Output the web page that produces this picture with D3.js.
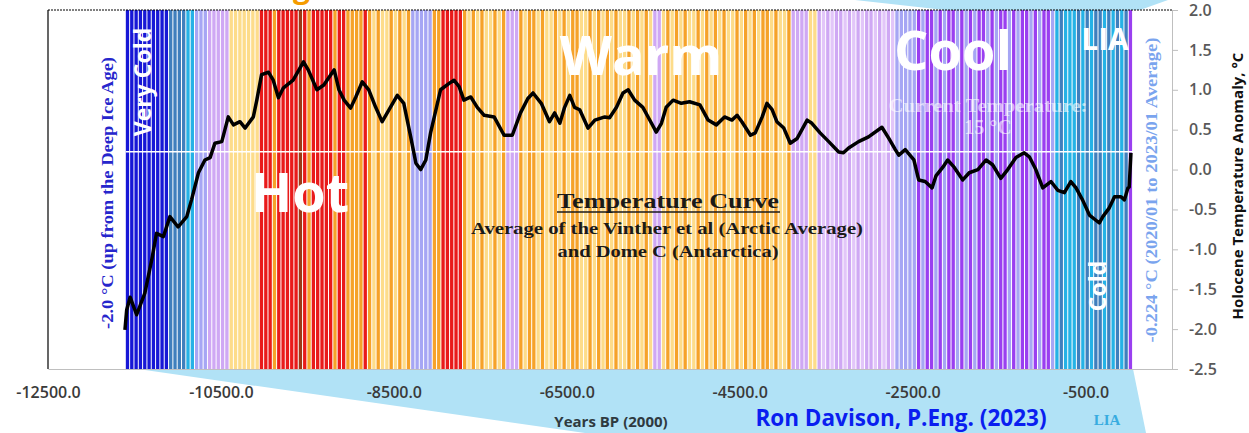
<!DOCTYPE html>
<html>
<head>
<meta charset="utf-8">
<script src="https://cdn.jsdelivr.net/npm/d3@7"></script>
<style>
  html, body { margin: 0; padding: 0; background: #fff; }
  svg { display: block; }
</style>
</head>
<body>
<div class="chart"></div>
<script>
// curve (years BP relative to 2000, anomaly in degC)
var years = [-11610, -11590, -11550, -11475, -11380, -11300, -11245, -11165, -11090, -10995,
  -10895, -10840, -10760, -10685, -10625, -10570, -10490, -10415, -10355, -10280,
  -10220, -10125, -10085, -10030, -9950, -9895, -9835, -9780, -9665, -9545,
  -9490, -9390, -9310, -9190, -9135, -9075, -9000, -8940, -8865, -8790,
  -8710, -8635, -8555, -8460, -8385, -8305, -8245, -8190, -8130, -8075,
  -7960, -7860, -7805, -7745, -7690, -7610, -7535, -7455, -7340, -7225,
  -7130, -7035, -6950, -6890, -6795, -6700, -6640, -6580, -6525, -6465,
  -6410, -6350, -6255, -6175, -6060, -6005, -5925, -5850, -5790, -5715,
  -5620, -5520, -5465, -5405, -5350, -5270, -5175, -5080, -4960, -4865,
  -4770, -4675, -4590, -4530, -4475, -4375, -4320, -4240, -4185, -4125,
  -4070, -3990, -3915, -3835, -3720, -3665, -3570, -3470, -3355, -3300,
  -3240, -3125, -3010, -2855, -2775, -2700, -2660, -2585, -2485, -2430,
  -2355, -2275, -2230, -2150, -2095, -2020, -1920, -1845, -1745, -1650,
  -1575, -1480, -1400, -1305, -1210, -1150, -1075, -995, -900, -820,
  -745, -670, -610, -535, -455, -340, -300, -225, -165, -90,
  -50, -10, 5, 25];
var anomaly = [-2.01, -1.76, -1.60, -1.82, -1.55, -1.13, -0.80, -0.84, -0.59, -0.72,
  -0.59, -0.38, -0.04, 0.12, 0.15, 0.33, 0.35, 0.66, 0.56, 0.60,
  0.52, 0.66, 0.87, 1.19, 1.22, 1.12, 0.90, 1.02, 1.12, 1.35,
  1.25, 1.00, 1.06, 1.25, 1.00, 0.87, 0.77, 0.91, 1.10, 1.00,
  0.78, 0.60, 0.75, 0.93, 0.83, 0.41, 0.08, 0.00, 0.12, 0.46,
  1.00, 1.08, 1.12, 1.04, 0.87, 0.91, 0.78, 0.68, 0.66, 0.43,
  0.43, 0.71, 0.89, 0.96, 0.83, 0.60, 0.71, 0.58, 0.78, 0.93,
  0.78, 0.75, 0.52, 0.62, 0.66, 0.65, 0.78, 0.96, 1.00, 0.87,
  0.78, 0.58, 0.47, 0.58, 0.78, 0.87, 0.83, 0.85, 0.81, 0.62,
  0.56, 0.66, 0.62, 0.68, 0.60, 0.43, 0.46, 0.66, 0.83, 0.75,
  0.60, 0.52, 0.33, 0.39, 0.62, 0.58, 0.46, 0.35, 0.22, 0.21,
  0.27, 0.35, 0.41, 0.53, 0.39, 0.25, 0.18, 0.25, 0.12, -0.13,
  -0.15, -0.23, -0.08, 0.03, 0.12, 0.03, -0.13, -0.04, 0.00, 0.12,
  0.06, -0.11, 0.00, 0.15, 0.21, 0.16, 0.00, -0.23, -0.15, -0.26,
  -0.29, -0.15, -0.23, -0.38, -0.57, -0.67, -0.59, -0.48, -0.34, -0.34,
  -0.38, -0.23, -0.22, 0.21];

var xTicks = [-12500, -10500, -8500, -6500, -4500, -2500, -500];
var yTicks = [2.0, 1.5, 1.0, 0.5, 0.0, -0.5, -1.0, -1.5, -2.0, -2.5];
var currentAnomaly = 0.224;

// one code per 50-year stripe, starting at -11600
var stripeStart = -11600, stripeStep = 50;
var stripeCodes = [
  "BBBBBBBBBB", "bbbb", "cc", "lll", "ppppp", "yyyyyyy",
  "rrrorrrrrRrorrrrrorr", "oooo", "r", "oyoyyoyoyo", "lllll", "oo", "rrrrr",
  "oyoyoyyoyo", "ppp",
  "oyooy", "oyyoy", "oyooy", "yoyoy", "oyoyy", "oyoyo", "y",
  "pp",
  "yoyoy", "oyyoy", "oyoyo", "yyoyo", "yoyoo", "yoyyo",
  "pppp", "yy", "pqpqppqpqpqppqpqpq", "lllll",
  "PlPP", "lPlP", "PlPl", "PlPP", "lPlP", "PlPl", "PPlP", "lPPl",
  "cbcccbc", "bcbbcbcbcb", "P"
].join("").split("");
var stripeColours = {
  B: "#1717d6", b: "#3f7fbd", c: "#25b2e6", l: "#a6a6f4", p: "#cfa8f4",
  q: "#e2c6f9", P: "#9a3ff0", y: "#fddc8a", o: "#f6a229", r: "#e91a1a", R: "#9c3a16"
};

var width = 1249, height = 433;
var x = d3.scaleLinear().domain([-12500, 500]).range([48, 1172]);
var y = d3.scaleLinear().domain([-2.5, 2]).range([369, 10]);

var svg = d3.select(".chart").append("svg")
  .attr("width", width)
  .attr("height", height)
  .style("background", "#fff");

var sans = "'Open Sans', 'DejaVu Sans', sans-serif";
var serif = "'Liberation Serif', 'DejaVu Serif', serif";

// light blue call-out shapes behind the plot
svg.append("polygon")
  .attr("points", [[138, 369], [1133, 369], [1146, 433], [585, 433]].join(" "))
  .attr("fill", "#b1e2f6");
svg.append("polygon")
  .attr("points", [[855, 0], [945, 10], [1140, 10], [1168, 0]].join(" "))
  .attr("fill", "#b1e2f6");

// orange heading, mostly above the picture as in the source
svg.append("text")
  .attr("x", 310).attr("y", -2)
  .attr("text-anchor", "end")
  .style("font-family", sans).style("font-weight", 700).style("font-size", "30px")
  .attr("fill", "#f59c00")
  .text("Warming");

// climate stripes
svg.append("g").selectAll("rect")
  .data(stripeCodes)
  .enter().append("rect")
    .attr("x", function (d, i) { return x(stripeStart + i * stripeStep); })
    .attr("y", y(2))
    .attr("width", function (d, i) {
      return x(stripeStart + (i + 1) * stripeStep) - x(stripeStart + i * stripeStep) - 1;
    })
    .attr("height", y(-2.5) - y(2))
    .attr("fill", function (d) { return stripeColours[d]; });

// current temperature line
svg.append("line")
  .attr("x1", x(stripeStart)).attr("x2", x(stripeStart + stripeCodes.length * stripeStep))
  .attr("y1", y(currentAnomaly)).attr("y2", y(currentAnomaly))
  .attr("stroke", "#fff").attr("stroke-width", 1.5);

// frame
svg.append("line").attr("x1", 48).attr("x2", 48).attr("y1", 10).attr("y2", 369)
  .attr("stroke", "#000").attr("stroke-width", 1.2);
svg.append("line").attr("x1", 48).attr("x2", 1172).attr("y1", 10).attr("y2", 10)
  .attr("stroke", "#000").attr("stroke-width", 1).attr("stroke-dasharray", "2,1");

// x axis
var xAxis = svg.append("g")
  .attr("transform", "translate(0," + y(-2.5) + ")")
  .call(d3.axisBottom(x).tickValues(xTicks).tickSize(0).tickSizeOuter(0)
    .tickFormat(function (d) { return d.toFixed(1); }));
xAxis.select(".domain").attr("stroke", "#bfbfbf");
xAxis.selectAll("text")
  .attr("y", 29).attr("dy", null)
  .attr("fill", "#3a3a3a")
  .style("font-family", sans).style("font-weight", 600).style("font-size", "16px");

// right y axis
var yAxis = svg.append("g")
  .attr("transform", "translate(1172,0)")
  .call(d3.axisRight(y).tickValues(yTicks).tickSize(6).tickSizeOuter(0).tickPadding(11)
    .tickFormat(function (d) { return d.toFixed(1); }));
yAxis.select(".domain").attr("stroke", "#bfbfbf");
yAxis.selectAll(".tick line").attr("stroke", "#bfbfbf");
yAxis.selectAll("text")
  .attr("fill", "#595959")
  .style("font-family", sans).style("font-weight", 600).style("font-size", "16px");

// temperature curve
var line = d3.line()
  .x(function (d) { return x(d[0]); })
  .y(function (d) { return y(d[1]); });
svg.append("path")
  .datum(d3.zip(years, anomaly))
  .attr("d", line)
  .attr("fill", "none")
  .attr("stroke", "#000")
  .attr("stroke-width", 3.5)
  .attr("stroke-linejoin", "round");

// big white labels
function label(txt, px, py, size, rotate) {
  var t = svg.append("text")
    .attr("text-anchor", "middle")
    .style("font-family", sans).style("font-weight", 700).style("font-size", size + "px")
    .attr("fill", "#fff")
    .text(txt);
  if (rotate) {
    t.attr("dy", "0.35em").attr("transform", "translate(" + px + "," + py + ") rotate(-90)");
  } else {
    t.attr("x", px).attr("y", py);
  }
  return t;
}
label("Hot", 300, 212, 54);
label("Warm", 641, 75, 54);
label("Cool", 953, 70, 54);
label("LIA", 1105, 50, 30);
label("Very Cold", 143, 82, 23, true);
label("Cold", 1098, 286, 23, true);

// current temperature note
svg.append("text")
  .attr("x", 988).attr("y", 112).attr("text-anchor", "middle")
  .attr("textLength", 199).attr("lengthAdjust", "spacingAndGlyphs")
  .style("font-family", serif).style("font-weight", 700).style("font-size", "19px")
  .attr("fill", "#fff").attr("fill-opacity", 0.6)
  .text("Current Temperature:");
svg.append("text")
  .attr("x", 988).attr("y", 134).attr("text-anchor", "middle")
  .style("font-family", serif).style("font-weight", 700).style("font-size", "20px")
  .attr("fill", "#fff").attr("fill-opacity", 0.6)
  .text("15 \u00B0C");

// curve caption
svg.append("text")
  .attr("x", 668).attr("y", 208).attr("text-anchor", "middle")
  .attr("textLength", 222).attr("lengthAdjust", "spacingAndGlyphs")
  .style("font-family", serif).style("font-weight", 700).style("font-size", "22px")
  .attr("fill", "#1a1a1a")
  .text("Temperature Curve");
svg.append("line")
  .attr("x1", 557).attr("x2", 780).attr("y1", 212).attr("y2", 212)
  .attr("stroke", "#1a1a1a").attr("stroke-width", 1.5);
svg.append("text")
  .attr("x", 667).attr("y", 234).attr("text-anchor", "middle")
  .attr("textLength", 392).attr("lengthAdjust", "spacingAndGlyphs")
  .style("font-family", serif).style("font-weight", 700).style("font-size", "17px")
  .attr("fill", "#1a1a1a")
  .text("Average of the Vinther et al (Arctic Average)");
svg.append("text")
  .attr("x", 668).attr("y", 257).attr("text-anchor", "middle")
  .attr("textLength", 221).attr("lengthAdjust", "spacingAndGlyphs")
  .style("font-family", serif).style("font-weight", 700).style("font-size", "17px")
  .attr("fill", "#1a1a1a")
  .text("and Dome C (Antarctica)");

// rotated side notes
svg.append("text")
  .attr("transform", "translate(107,193) rotate(-90)")
  .attr("dy", "0.35em").attr("text-anchor", "middle")
  .attr("textLength", 272).attr("lengthAdjust", "spacingAndGlyphs")
  .style("font-family", serif).style("font-weight", 700).style("font-size", "17px")
  .attr("fill", "#2626cc")
  .text("-2.0 \u00B0C (up from the Deep Ice Age)");
svg.append("text")
  .attr("transform", "translate(1151,190) rotate(-90)")
  .attr("dy", "0.35em").attr("text-anchor", "middle")
  .attr("textLength", 305).attr("lengthAdjust", "spacingAndGlyphs")
  .style("font-family", serif).style("font-weight", 700).style("font-size", "17px")
  .attr("fill", "#7aa4ee")
  .text("-0.224 \u00B0C (2020/01 to 2023/01 Average)");
svg.append("text")
  .attr("transform", "translate(1238,186) rotate(-90)")
  .attr("dy", "0.35em").attr("text-anchor", "middle")
  .style("font-family", sans).style("font-weight", 700).style("font-size", "15px")
  .attr("fill", "#111")
  .text("Holocene Temperature Anomaly, \u00B0C");

// bottom texts
svg.append("text")
  .attr("x", 611).attr("y", 427).attr("text-anchor", "middle")
  .style("font-family", sans).style("font-weight", 700).style("font-size", "15px")
  .attr("fill", "#2f3a40")
  .text("Years BP (2000)");
svg.append("text")
  .attr("x", 901).attr("y", 426).attr("text-anchor", "middle")
  .style("font-family", sans).style("font-weight", 700).style("font-size", "22.5px")
  .attr("fill", "#0a1ef0")
  .text("Ron Davison, P.Eng. (2023)");
svg.append("text")
  .attr("x", 1107).attr("y", 425).attr("text-anchor", "middle")
  .style("font-family", serif).style("font-weight", 700).style("font-size", "15px")
  .attr("fill", "#38ace0")
  .text("LIA");
</script>
</body>
</html>
